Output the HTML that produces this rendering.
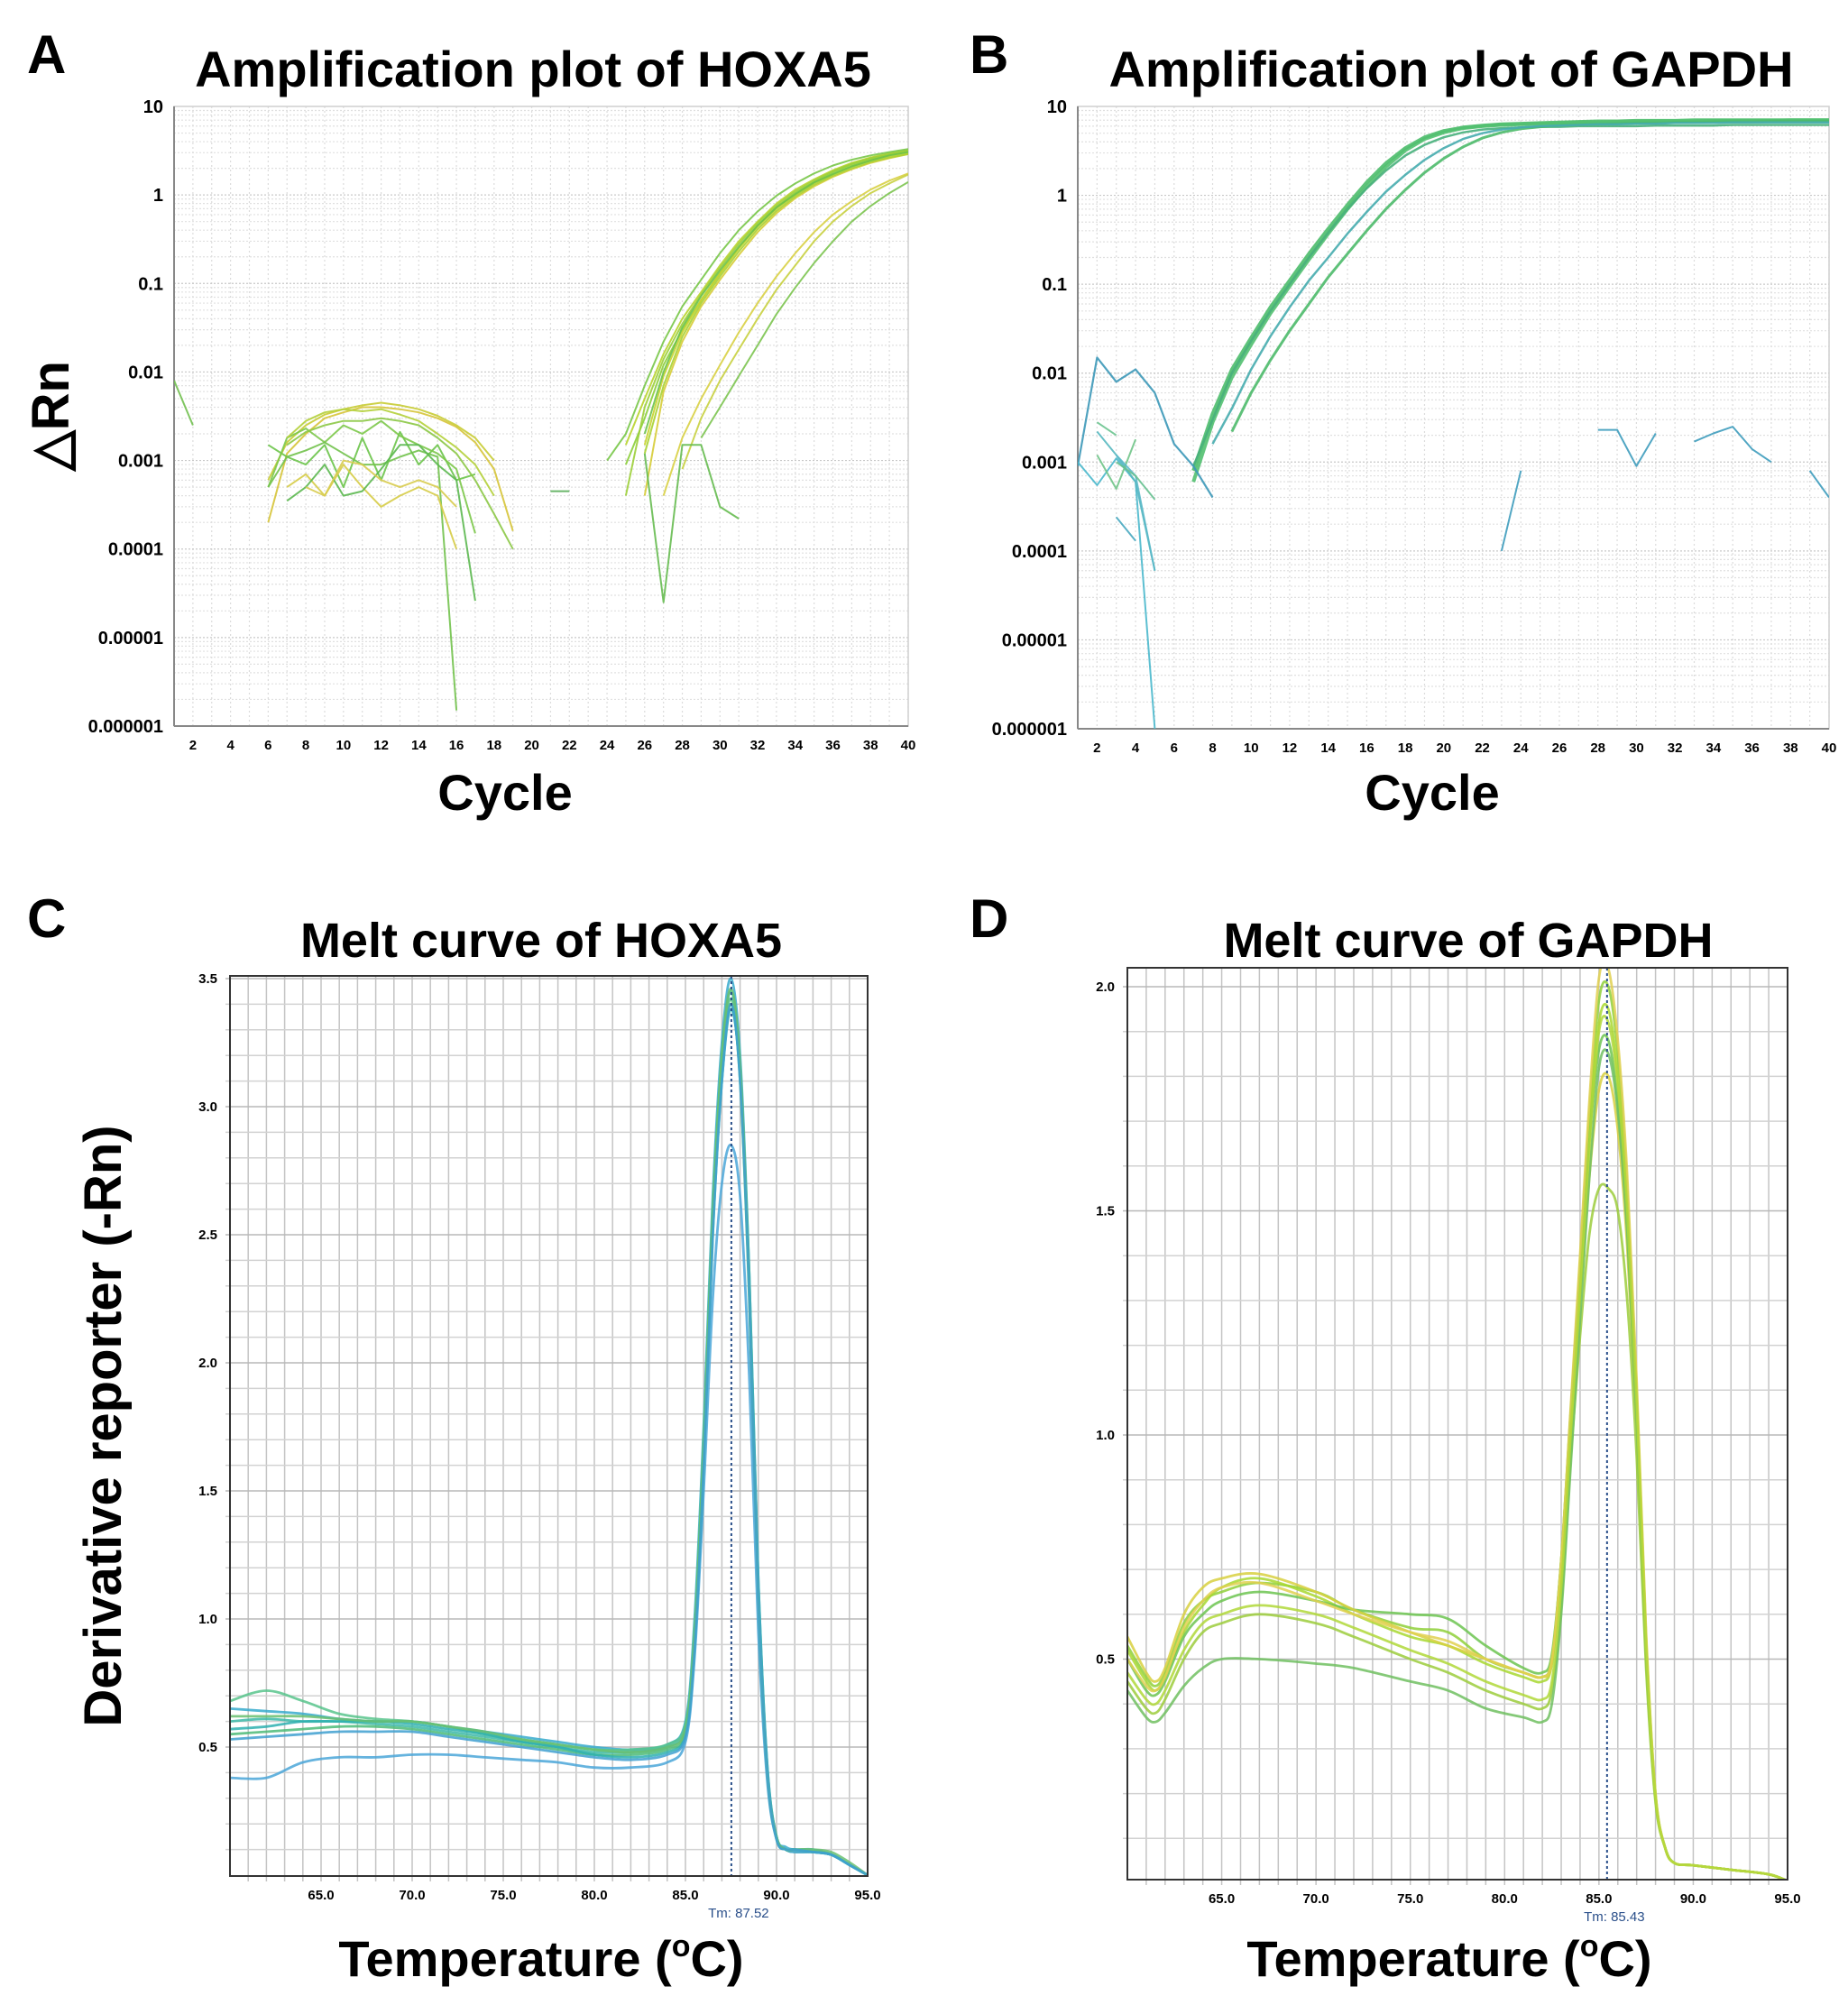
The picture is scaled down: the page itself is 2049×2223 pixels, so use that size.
<!DOCTYPE html>
<html><head><meta charset="utf-8">
<style>
html,body{margin:0;padding:0;background:#fff;}
svg{display:block;font-family:"Liberation Sans",Arial,sans-serif;}
</style></head>
<body>
<svg id="fig" xmlns="http://www.w3.org/2000/svg" width="2049" height="2223" viewBox="0 0 2049 2223">
<rect width="2049" height="2223" fill="#fff"/>
<text x="30" y="81" font-size="60" font-weight="bold">A</text>
<text x="591" y="96" font-size="56" font-weight="bold" text-anchor="middle">Amplification plot of HOXA5</text>
<text x="1075" y="81" font-size="60" font-weight="bold">B</text>
<text x="1609" y="96" font-size="56" font-weight="bold" text-anchor="middle">Amplification plot of GAPDH</text>
<text x="560" y="898" font-size="56" font-weight="bold" text-anchor="middle">Cycle</text>
<text x="1588" y="898" font-size="56" font-weight="bold" text-anchor="middle">Cycle</text>
<text transform="translate(76,461) rotate(-90)" font-size="58" font-weight="bold" text-anchor="middle">△Rn</text>
<text x="30" y="1039" font-size="60" font-weight="bold">C</text>
<text x="600" y="1061" font-size="54" font-weight="bold" text-anchor="middle">Melt curve of HOXA5</text>
<text x="1075" y="1039" font-size="60" font-weight="bold">D</text>
<text x="1628" y="1061" font-size="54" font-weight="bold" text-anchor="middle">Melt curve of GAPDH</text>
<text transform="translate(134,1581) rotate(-90)" font-size="58" font-weight="bold" text-anchor="middle">Derivative  reporter (-Rn)</text>
<text x="600" y="2191" font-size="56" font-weight="bold" text-anchor="middle">Temperature (<tspan font-size="34" dy="-22">o</tspan><tspan dy="22">C)</tspan></text>
<text x="1607" y="2191" font-size="56" font-weight="bold" text-anchor="middle">Temperature (<tspan font-size="34" dy="-22">o</tspan><tspan dy="22">C)</tspan></text>
</svg>
<script>
// ---------- Panel A data (HOXA5 amplification) ----------
const hoxaStarts = [25,25,24,26,26,25,26,26,27,29,28,26,1,21,6,6,6,6,6,7,7,7,7,8];
const hoxaValues = [
 [0.0009,0.003,0.012,0.03,0.065,0.13,0.25,0.45,0.72,1.05,1.4,1.8,2.2,2.55,2.85,3.1],
 [0.0015,0.005,0.016,0.04,0.08,0.16,0.3,0.5,0.8,1.15,1.5,1.9,2.3,2.65,2.95,3.2],
 [0.001,0.002,0.007,0.022,0.055,0.11,0.22,0.4,0.65,0.98,1.35,1.75,2.15,2.5,2.8,3.05,3.3],
 [0.0015,0.009,0.028,0.065,0.13,0.25,0.44,0.7,1.0,1.35,1.7,2.1,2.45,2.75,3.0],
 [0.0004,0.006,0.022,0.055,0.11,0.21,0.38,0.62,0.92,1.25,1.6,1.95,2.3,2.6,2.9],
 [0.0004,0.004,0.014,0.035,0.075,0.15,0.28,0.48,0.76,1.1,1.45,1.85,2.25,2.6,2.9,3.15],
 [0.0012,0.007,0.025,0.06,0.12,0.23,0.41,0.66,0.96,1.3,1.65,2.0,2.35,2.65,2.9],
 [0.002,0.01,0.032,0.072,0.14,0.26,0.45,0.72,1.02,1.38,1.72,2.1,2.45,2.8,3.05],
 [0.0004,0.0018,0.005,0.012,0.028,0.06,0.12,0.22,0.38,0.6,0.85,1.15,1.45,1.75],
 [0.0018,0.004,0.009,0.02,0.045,0.09,0.17,0.3,0.5,0.75,1.05,1.4],
 [0.0008,0.003,0.008,0.018,0.04,0.085,0.16,0.3,0.5,0.75,1.05,1.35,1.7],
 [0.0012,0.000025,0.0015,0.0015,0.0003,0.00022],
 [0.008,0.0025],
 [0.00045,0.00045],
 [0.0002,0.0012,0.002,0.003,0.0035,0.004,0.004,0.0038,0.0035,0.003,0.0024,0.0016,0.0008,0.00016],
 [0.0006,0.0016,0.0025,0.0033,0.0038,0.0042,0.0045,0.0042,0.0038,0.0032,0.0025,0.0018,0.001],
 [0.0015,0.0011,0.0009,0.0015,0.0005,0.0018,0.0006,0.0021,0.0009,0.0015,0.0006,0.0007],
 [0.0005,0.0018,0.0023,0.0016,0.0025,0.002,0.0028,0.0019,0.0015,0.0012,0.0008,0.00015],
 [0.0005,0.0011,0.0013,0.0016,0.0012,0.0009,0.0009,0.0011,0.0013,0.0011,0.0000015],
 [0.0005,0.0007,0.0004,0.0009,0.0005,0.0003,0.0004,0.0005,0.0004,0.0001],
 [0.00035,0.0005,0.0009,0.0004,0.00045,0.0008,0.0015,0.0015,0.0009,0.0006,0.000026],
 [0.0015,0.0021,0.0025,0.0028,0.0028,0.003,0.0028,0.0025,0.0018,0.0012,0.0006,0.00025,0.0001],
 [0.0018,0.0028,0.0035,0.0038,0.0036,0.0038,0.0033,0.0028,0.002,0.0014,0.0009,0.0004],
 [0.0005,0.0004,0.001,0.0009,0.0006,0.0005,0.0006,0.0005,0.0003]
];
const hoxaColors = ["#8ccf3a","#b8d42c","#78c648","#c8d430","#d6cc36","#9ccf38","#a8d232","#6cc24a","#d8d044","#7cc450","#c8d040","#66bb50","#72c050","#5aae5a","#d6c438","#c8cc34","#6cc44a","#7cc84a","#72c24c","#d6cc48","#5cb850","#8cc846","#b4d03a","#d8cc50"];

// ---------- Panel B data (GAPDH amplification) ----------
const gapdhStarts = [7,7,7,9,8,1,1,2,2,2,3,3,3,23,28,33,39];
const gapdhValues = [
 [0.0008,0.0035,0.011,0.025,0.055,0.11,0.22,0.42,0.78,1.4,2.3,3.4,4.5,5.3,5.8,6.1,6.3,6.4,6.5,6.6,6.7,6.8,6.8,6.9,6.9,6.9,7.0,7.0,7.0,7.0,7.0,7.0,7.0,7.0],
 [0.0006,0.0028,0.009,0.021,0.047,0.095,0.19,0.37,0.7,1.25,2.1,3.2,4.3,5.1,5.7,6.0,6.2,6.3,6.4,6.5,6.6,6.6,6.7,6.7,6.8,6.8,6.8,6.9,6.9,6.9,6.9,7.0,7.0,7.0],
 [0.0009,0.003,0.01,0.023,0.05,0.1,0.2,0.38,0.7,1.2,1.9,2.8,3.7,4.5,5.1,5.5,5.7,5.8,5.9,5.9,6.0,6.0,6.0,6.0,6.1,6.1,6.1,6.1,6.2,6.2,6.2,6.2,6.2,6.2],
 [0.0022,0.006,0.014,0.03,0.06,0.12,0.22,0.4,0.7,1.15,1.8,2.6,3.5,4.4,5.1,5.6,5.9,6.1,6.2,6.3,6.4,6.5,6.5,6.6,6.6,6.7,6.7,6.7,6.8,6.8,6.8,6.8],
 [0.0016,0.004,0.011,0.026,0.055,0.11,0.2,0.37,0.65,1.1,1.7,2.5,3.4,4.3,5.0,5.5,5.8,6.0,6.1,6.2,6.3,6.3,6.4,6.4,6.5,6.5,6.5,6.6,6.6,6.6,6.6,6.6,6.6],
 [0.0009,0.015,0.008,0.011,0.006,0.0016,0.0009,0.0004],
 [0.001,0.00055,0.0011,0.0006,0.000001],
 [0.0028,0.002],
 [0.0022,0.0012,0.0006,0.00006],
 [0.0012,0.0005,0.0018],
 [0.00024,0.00013],
 [0.0012,0.0007,0.00006],
 [0.001,0.0007,0.00038],
 [0.0001,0.0008],
 [0.0023,0.0023,0.0009,0.0021],
 [0.0017,0.0021,0.0025,0.0014,0.001],
 [0.0008,0.0004]
];
const gapdhColors = ["#4cbd6c","#52c070","#48b07c","#4cba6a","#46acae","#3c98b8","#4ab8cc","#6cc490","#56b8c0","#70c488","#48a8c0","#5ab8c8","#66c090","#3e9cbc","#3e9cbc","#3e9cbc","#3e9cbc"];
const gapdhWidths = [4,4,2.5,3,2.5,2.2,2,2,2,2,2,2,2,2,2,2,2];

// ---------- Panel C data (HOXA5 melt) ----------
const meltTempsC = [60,62,64,66,68,70,72,74,76,78,80,82,84,85,85.5,86,86.5,87,87.5,88,88.5,89,89.5,90,90.5,91,92,93,94,95];
const meltValuesC = [
 [0.6,0.61,0.6,0.6,0.59,0.58,0.56,0.54,0.52,0.5,0.48,0.48,0.5,0.58,0.95,1.7,2.6,3.2,3.45,3.15,2.3,1.1,0.4,0.15,0.1,0.1,0.09,0.08,0.04,0.0],
 [0.55,0.56,0.57,0.58,0.58,0.57,0.55,0.53,0.51,0.49,0.47,0.47,0.49,0.56,0.92,1.65,2.55,3.15,3.4,3.1,2.25,1.05,0.38,0.14,0.1,0.09,0.09,0.08,0.04,0.0],
 [0.65,0.64,0.63,0.61,0.6,0.6,0.58,0.56,0.54,0.52,0.5,0.49,0.51,0.6,1.0,1.75,2.65,3.25,3.5,3.2,2.35,1.15,0.42,0.15,0.11,0.1,0.1,0.08,0.04,0.0],
 [0.68,0.72,0.68,0.63,0.61,0.6,0.58,0.55,0.53,0.51,0.49,0.49,0.51,0.59,0.96,1.7,2.6,3.18,3.42,3.12,2.28,1.08,0.39,0.14,0.1,0.1,0.09,0.08,0.04,0.0],
 [0.38,0.38,0.44,0.46,0.46,0.47,0.47,0.46,0.45,0.44,0.42,0.42,0.44,0.52,0.85,1.5,2.25,2.7,2.85,2.65,1.95,0.95,0.36,0.14,0.1,0.09,0.09,0.08,0.04,0.0],
 [0.57,0.58,0.6,0.6,0.6,0.59,0.57,0.55,0.52,0.5,0.47,0.46,0.48,0.55,0.9,1.6,2.5,3.1,3.38,3.12,2.35,1.15,0.42,0.15,0.1,0.1,0.09,0.08,0.04,0.0],
 [0.62,0.62,0.62,0.61,0.6,0.6,0.58,0.56,0.53,0.51,0.49,0.48,0.5,0.57,0.94,1.68,2.58,3.2,3.46,3.16,2.3,1.1,0.4,0.15,0.1,0.1,0.1,0.09,0.05,0.0],
 [0.53,0.54,0.55,0.56,0.56,0.56,0.54,0.52,0.5,0.48,0.46,0.45,0.47,0.54,0.88,1.6,2.5,3.1,3.4,3.1,2.28,1.1,0.4,0.14,0.1,0.1,0.09,0.08,0.04,0.0]
];
const meltColorsC = ["#3cb8a8","#4cbb78","#36aacc","#58c48c","#4aa6d8","#2eb0b0","#68c070","#40a0d0"];
const tmC = 87.52;

// ---------- Panel D data (GAPDH melt) ----------
const meltTempsD = [60,61,61.5,62,63,64,65,67,70,72,75,77,79,81,82,82.5,83,83.5,84,84.5,85,85.5,86,86.5,87,87.5,88,88.5,89,90,92,94,95];
const meltValuesD = [
 [0.53,0.46,0.44,0.47,0.58,0.63,0.65,0.67,0.65,0.61,0.57,0.56,0.5,0.47,0.46,0.5,0.72,1.05,1.38,1.72,1.97,2.0,1.85,1.55,1.1,0.55,0.2,0.08,0.045,0.04,0.03,0.02,0.005],
 [0.52,0.45,0.43,0.46,0.56,0.62,0.66,0.68,0.64,0.6,0.55,0.53,0.49,0.46,0.45,0.49,0.7,1.02,1.34,1.68,1.92,1.95,1.8,1.5,1.07,0.53,0.19,0.08,0.045,0.04,0.03,0.02,0.005],
 [0.5,0.43,0.42,0.45,0.55,0.6,0.63,0.65,0.63,0.61,0.6,0.59,0.53,0.48,0.47,0.51,0.72,1.05,1.36,1.66,1.86,1.88,1.74,1.46,1.05,0.52,0.19,0.08,0.045,0.04,0.03,0.02,0.005],
 [0.55,0.47,0.45,0.48,0.6,0.66,0.68,0.69,0.65,0.61,0.56,0.53,0.5,0.47,0.46,0.49,0.7,1.0,1.3,1.58,1.77,1.8,1.68,1.42,1.02,0.5,0.19,0.08,0.045,0.04,0.03,0.02,0.005],
 [0.45,0.39,0.38,0.41,0.5,0.56,0.58,0.6,0.58,0.55,0.5,0.47,0.43,0.4,0.39,0.43,0.62,0.95,1.22,1.45,1.55,1.55,1.5,1.3,0.95,0.48,0.18,0.08,0.045,0.04,0.03,0.02,0.005],
 [0.43,0.37,0.36,0.38,0.44,0.48,0.5,0.5,0.49,0.48,0.45,0.43,0.39,0.37,0.36,0.4,0.6,0.93,1.26,1.58,1.82,1.85,1.72,1.45,1.04,0.52,0.19,0.08,0.045,0.04,0.03,0.02,0.005],
 [0.5,0.44,0.43,0.46,0.57,0.63,0.66,0.67,0.63,0.6,0.56,0.54,0.5,0.47,0.46,0.5,0.72,1.06,1.4,1.75,2.02,2.04,1.88,1.58,1.12,0.56,0.2,0.08,0.045,0.04,0.03,0.02,0.005],
 [0.47,0.41,0.4,0.43,0.52,0.58,0.6,0.62,0.6,0.57,0.52,0.49,0.45,0.42,0.41,0.45,0.66,1.0,1.32,1.65,1.9,1.92,1.78,1.5,1.07,0.53,0.19,0.08,0.045,0.04,0.03,0.02,0.005]
];
const meltColorsD = ["#8fd03a","#a8d830","#6cc450","#d8d040","#9ccc3c","#70c060","#e0d050","#b0d838"];
const tmD = 85.43;

const ampXTicks = [2,4,6,8,10,12,14,16,18,20,22,24,26,28,30,32,34,36,38,40];
const ampYTicks = [10,1,0.1,0.01,0.001,0.0001,0.00001,0.000001];
const ampYTickLabels = ["10","1","0.1","0.01","0.001","0.0001","0.00001","0.000001"];
const meltXTicks = [65,70,75,80,85,90,95];
const meltYTicksC = [0.5,1.0,1.5,2.0,2.5,3.0,3.5];
const meltYTicksD = [0.5,1.0,1.5,2.0];

const NS = "http://www.w3.org/2000/svg";
const svg = document.getElementById("fig");
function el(tag, attrs, parent){
  const e = document.createElementNS(NS, tag);
  for (const k in attrs) e.setAttribute(k, attrs[k]);
  (parent || svg).appendChild(e);
  return e;
}

function ampPanel(id, x0, x1, y0, y1, starts, values, colors, widths){
  const g = el("g", {});
  
  
  const xS = c => x0 + (c - 1) / 39 * (x1 - x0);
  const yS = v => y0 + (1 - Math.log10(v)) / 7 * (y1 - y0);
  for (let c = 1; c <= 40; c++) {
    el("line", {x1:xS(c), x2:xS(c), y1:y0, y2:y1, stroke:"#dcdcdc", "stroke-width":1.2, "stroke-dasharray":"2,3"}, g);
  }
  for (let d = -6; d < 1; d++) {
    for (let m = 1; m <= 9; m++) {
      const v = m * Math.pow(10, d);
      el("line", {x1:x0, x2:x1, y1:yS(v), y2:yS(v), stroke: m===1 ? "#c8c8c8" : "#e0e0e0", "stroke-width":1.2, "stroke-dasharray":"2,2"}, g);
    }
  }
  el("rect", {x:x0, y:y0, width:x1-x0, height:y1-y0, fill:"none", stroke:"#cfcfcf", "stroke-width":1.5}, g);
  el("line", {x1:x0, x2:x0, y1:y0, y2:y1, stroke:"#888", "stroke-width":2}, g);
  el("line", {x1:x0, x2:x1, y1:y1, y2:y1, stroke:"#888", "stroke-width":2}, g);
  const cp = el("clipPath", {id:"clip-" + id}, g);
  el("rect", {x:x0, y:y0, width:x1-x0, height:y1-y0}, cp);
  const lines = el("g", {"clip-path":"url(#clip-" + id + ")"}, g);
  values.forEach((vals, i) => {
    const pts = vals.map((v, k) => xS(starts[i] + k).toFixed(1) + "," + yS(Math.max(v, 1e-7)).toFixed(1)).join(" ");
    const pl = el("polyline", {points:pts, fill:"none", stroke:colors[i], "stroke-width": widths ? widths[i] : 2, "stroke-linejoin":"round", opacity:0.9}, lines);
    
    
  });
  ampXTicks.forEach(c => {
    const t = el("text", {x:xS(c), y:y1 + 26, "font-size":15, "font-weight":"bold", "text-anchor":"middle"}, g);
    t.textContent = c;
    
    
  });
  ampYTicks.forEach((v, i) => {
    const t = el("text", {x:x0 - 12, y:yS(v) + 7, "font-size":20, "font-weight":"bold", "text-anchor":"end"}, g);
    t.textContent = ampYTickLabels[i];
    
    
  });
}

function smoothPath(pts){
  let d = "M" + pts[0][0].toFixed(1) + "," + pts[0][1].toFixed(1);
  for (let i = 0; i < pts.length - 1; i++) {
    const p0 = pts[Math.max(i-1,0)], p1 = pts[i], p2 = pts[i+1], p3 = pts[Math.min(i+2, pts.length-1)];
    const c1x = p1[0] + (p2[0]-p0[0])/6, c1y = p1[1] + (p2[1]-p0[1])/6;
    const c2x = p2[0] - (p3[0]-p1[0])/6, c2y = p2[1] - (p3[1]-p1[1])/6;
    d += "C" + c1x.toFixed(1) + "," + c1y.toFixed(1) + " " + c2x.toFixed(1) + "," + c2y.toFixed(1) + " " + p2[0].toFixed(1) + "," + p2[1].toFixed(1);
  }
  return d;
}

function meltPanel(id, x0, x1, top, bottom, yZero, yPerUnit, yMaxGrid, temps, values, colors, yTicks, tm){
  const g = el("g", {});
  
  
  const xS = t => x0 + (t - 60) / 35 * (x1 - x0);
  const yS = v => yZero - v * yPerUnit;
  for (let t = 61; t < 95; t++) {
    el("line", {x1:xS(t), x2:xS(t), y1:top, y2:bottom + 6, stroke:"#c4c4c4", "stroke-width":1.5}, g);
  }
  for (let k = 1; k * 0.1 <= yMaxGrid + 1e-9; k++) {
    const v = k * 0.1;
    el("line", {x1:x0 - 5, x2:x1, y1:yS(v), y2:yS(v), stroke: (k % 5 === 0) ? "#b8b8b8" : "#d2d2d2", "stroke-width":1.5}, g);
  }
  const cp = el("clipPath", {id:"clip-" + id}, g);
  el("rect", {x:x0, y:top, width:x1-x0, height:bottom-top}, cp);
  const lines = el("g", {"clip-path":"url(#clip-" + id + ")"}, g);
  values.forEach((vals, i) => {
    const pts = vals.map((v, k) => [xS(temps[k]), yS(v)]);
    const p = el("path", {d:smoothPath(pts), fill:"none", stroke:colors[i], "stroke-width":2.8, opacity:0.85}, lines);
    
    
  });
  const tl = el("line", {x1:xS(tm), x2:xS(tm), y1:top, y2:bottom, stroke:"#2a4f8a", "stroke-width":2, "stroke-dasharray":"3,3"}, g);
  
  
  el("rect", {x:x0, y:top, width:x1-x0, height:bottom-top, fill:"none", stroke:"#333", "stroke-width":2}, g);
  meltXTicks.forEach(t => {
    const tx = el("text", {x:xS(t), y:bottom + 26, "font-size":15, "font-weight":"bold", "text-anchor":"middle"}, g);
    tx.textContent = t.toFixed(1);
    
    
  });
  yTicks.forEach(v => {
    const tx = el("text", {x:x0 - 14, y:yS(v) + 5, "font-size":15, "font-weight":"bold", "text-anchor":"end"}, g);
    tx.textContent = v.toFixed(1);
    
    
  });
  const lab = el("text", {x:xS(tm) + 8, y:bottom + 46, "font-size":15, fill:"#2a4f8a", "text-anchor":"middle"}, g);
  lab.textContent = "Tm: " + tm.toFixed(2);
  
  
}

ampPanel("a", 193, 1007, 118, 805, hoxaStarts, hoxaValues, hoxaColors, null);
ampPanel("b", 1195, 2028, 118, 808, gapdhStarts, gapdhValues, gapdhColors, gapdhWidths);
meltPanel("c", 255, 962, 1082, 2080, 2079, 284, 3.5, meltTempsC, meltValuesC, meltColorsC, meltYTicksC, tmC);
meltPanel("d", 1250, 1982, 1073, 2084, 2088, 497, 2.0, meltTempsD, meltValuesD, meltColorsD, meltYTicksD, tmD);
</script>
</body></html>
